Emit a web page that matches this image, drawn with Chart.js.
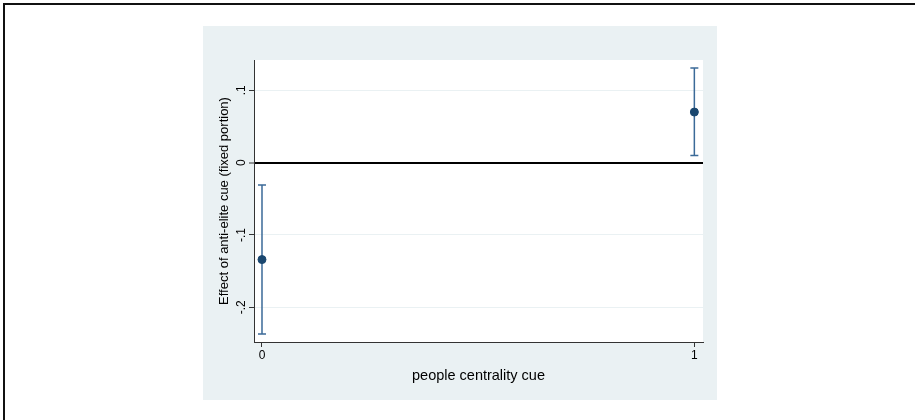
<!DOCTYPE html>
<html>
<head>
<meta charset="utf-8">
<script src="https://cdn.jsdelivr.net/npm/chart.js@4/dist/chart.umd.min.js"></script>
<style>
  html, body { margin: 0; padding: 0; background: #fff; }
  body { width: 915px; height: 420px; position: relative; overflow: hidden; }
  #frame { position: absolute; left: 3px; top: 3px; right: -10px; bottom: -10px;
           border-top: 2px solid #111; border-left: 2px solid #111; }
  #region { position: absolute; left: 203px; top: 26px; width: 514px; height: 374px; background: #eaf1f3; }
  canvas { display: block; }
</style>
</head>
<body>
<div id="frame"></div>
<div id="region"><canvas id="chart" width="514" height="374"></canvas></div>
<script>
// data
const categories = [0, 1];
const xTickLabels = ["0", "1"];
const estimates = [-0.134, 0.070];
const lowerCI = [-0.237, 0.010];
const upperCI = [-0.031, 0.131];
const yTickValues = [-0.2, -0.1, 0, 0.1];
const yTickLabels = ["-.2", "-.1", "0", ".1"];

const FONT = "'Liberation Sans', Arial, sans-serif";
const markerColor = "#1a476f";
const barColor = "#3b6a98";

// white plot region inside the grey graph region
const plotBg = {
  id: "plotBg",
  beforeDraw(chart) {
    const { ctx, chartArea: a } = chart;
    ctx.save();
    ctx.fillStyle = "#fff";
    ctx.fillRect(a.left, a.top, a.right - a.left, a.bottom - a.top);
    ctx.restore();
  }
};

// error bars, drawn under the points
const errorBars = {
  id: "errorBars",
  beforeDatasetsDraw(chart) {
    const { ctx, scales: { x, y } } = chart;
    ctx.save();
    ctx.strokeStyle = barColor;
    ctx.lineWidth = 1.5;
    categories.forEach((c, i) => {
      const px = x.getPixelForValue(c);
      const lo = y.getPixelForValue(lowerCI[i]);
      const hi = y.getPixelForValue(upperCI[i]);
      ctx.beginPath();
      ctx.moveTo(px, lo); ctx.lineTo(px, hi);
      ctx.moveTo(px - 4, lo); ctx.lineTo(px + 4, lo);
      ctx.moveTo(px - 4, hi); ctx.lineTo(px + 4, hi);
      ctx.stroke();
    });
    ctx.restore();
  }
};

// y tick labels rotated like Stata, centred on each tick
const yLabels = {
  id: "yLabels",
  afterDraw(chart) {
    const { ctx, scales: { y } } = chart;
    ctx.save();
    ctx.fillStyle = "#000";
    ctx.font = "12px " + FONT;
    ctx.textAlign = "center";
    ctx.textBaseline = "middle";
    yTickValues.forEach((v, i) => {
      ctx.save();
      ctx.translate(y.right - 12, y.getPixelForValue(v));
      ctx.rotate(-Math.PI / 2);
      ctx.fillText(yTickLabels[i], 0, 0);
      ctx.restore();
    });
    ctx.restore();
  }
};

new Chart(document.getElementById("chart"), {
  type: "scatter",
  data: {
    datasets: [{
      data: categories.map((c, i) => ({ x: c, y: estimates[i] })),
      backgroundColor: markerColor,
      borderColor: markerColor,
      pointRadius: 4,
      pointHoverRadius: 4
    }]
  },
  options: {
    responsive: false,
    animation: false,
    layout: { padding: { top: 34, right: 14, left: 0, bottom: 0 } },
    plugins: { legend: { display: false }, tooltip: { enabled: false } },
    scales: {
      x: {
        type: "linear",
        min: -0.0185,
        max: 1.02,
        afterBuildTicks: (s) => { s.ticks = categories.map((v) => ({ value: v })); },
        afterFit: (s) => { s.height = 58; },
        ticks: {
          color: "#000",
          font: { family: FONT, size: 12 },
          padding: 1,
          maxRotation: 0,
          callback: (v) => xTickLabels[categories.indexOf(v)]
        },
        grid: { drawOnChartArea: false, tickColor: "#333", tickLength: 5 },
        border: { color: "#333", width: 1 },
        title: {
          display: true,
          text: "people centrality cue",
          color: "#000",
          font: { family: FONT, size: 14.5 },
          padding: { top: 0, bottom: 15 }
        }
      },
      y: {
        min: -0.248,
        max: 0.142,
        afterBuildTicks: (s) => { s.ticks = yTickValues.map((v) => ({ value: v })); },
        afterFit: (s) => { s.width = 51; },
        ticks: { display: false },
        grid: {
          color: (c) => (c.tick && c.tick.value === 0 ? "#000" : "#eaf1f3"),
          lineWidth: (c) => (c.tick && c.tick.value === 0 ? 2 : 1),
          tickColor: "#333",
          tickWidth: 1,
          tickLength: 5
        },
        border: { color: "#333", width: 1 },
        title: {
          display: true,
          text: "Effect of anti-elite cue (fixed portion)",
          color: "#000",
          font: { family: FONT, size: 13 },
          padding: { top: 14, bottom: 0 }
        }
      }
    }
  },
  plugins: [plotBg, errorBars, yLabels]
});
</script>
</body>
</html>
